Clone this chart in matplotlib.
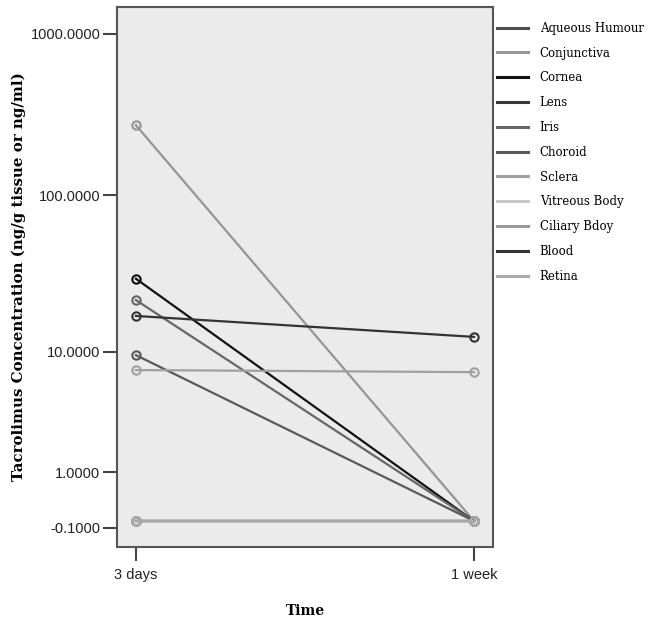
import numpy as np
import matplotlib
matplotlib.use("Agg")
import matplotlib.pyplot as plt

# data
times = ["3 days", "1 week"]
tissues = ["Aqueous Humour", "Conjunctiva", "Cornea", "Lens", "Iris", "Choroid",
           "Sclera", "Vitreous Body", "Ciliary Bdoy", "Blood", "Retina"]
day3 = [0.0, 272.0, 30.0, 0.0, 21.9, 9.5, 7.5, 0.0, 0.0, 17.3, 0.0]
week1 = [0.0, 0.0, 0.0, 0.0, 0.0, 0.0, 7.25, 0.0, 0.0, 12.6, 0.0]
colors = ["#505050", "#959595", "#111111", "#3a3a3a", "#666666", "#5a5a5a",
          "#a0a0a0", "#c8c8c8", "#9a9a9a", "#333333", "#aaaaaa"]
yticks = [-0.1, 1.0, 10.0, 100.0, 1000.0]


# SPSS style "safe log" axis: sign(x) * log10(1 + |x|)
def fwd(v):
    v = np.asarray(v, dtype=float)
    return np.sign(v) * np.log10(1 + np.abs(v))


def inv(v):
    v = np.asarray(v, dtype=float)
    return np.sign(v) * (10 ** np.abs(v) - 1)


fig = plt.figure(figsize=(6.49, 6.22), dpi=100)
ax = fig.add_axes([0.1803, 0.1206, 0.5793, 0.8681])
ax.set_facecolor("#ebebeb")
ax.set_yscale("function", functions=(fwd, inv))

x = np.arange(len(times))
for name, a, b, c in zip(tissues, day3, week1, colors):
    ax.plot(x, [a, b], color=c, lw=1.6, marker="o", ms=6, mfc="none",
            mec=c, mew=1.5, label=name)

ax.set_xlim(-0.056, 1.056)
ax.set_ylim(-0.444, 1457)
ax.set_yticks(yticks)
ax.set_yticklabels(["%.4f" % t for t in yticks])
ax.minorticks_off()
ax.set_xticks(x)
ax.set_xticklabels(times)

for lab in ax.get_xticklabels() + ax.get_yticklabels():
    lab.set_family("Liberation Sans")
    lab.set_fontsize(10.5)
    lab.set_color("#222222")

ax.tick_params(direction="out", length=10, width=1.5, color="#444444")
ax.tick_params(axis="y", pad=2)
ax.tick_params(axis="x", pad=5)
for sp in ax.spines.values():
    sp.set_color("#555555")
    sp.set_linewidth(1.5)

ax.set_xlabel("Time", family="DejaVu Serif", fontweight="bold", fontsize=10)
ax.xaxis.set_label_coords(0.5, -0.105)
ax.set_ylabel("Tacrolimus Concentration (ng/g tissue or ng/ml)",
              family="DejaVu Serif", fontweight="bold", fontsize=10.8)
ax.yaxis.set_label_coords(-0.243, 0.5)

leg = ax.legend(loc="upper left", bbox_to_anchor=(0.766, 0.965),
                bbox_transform=fig.transFigure, frameon=False,
                prop={"family": "DejaVu Serif", "size": 8.5},
                handlelength=2.6, handletextpad=1.0, labelspacing=1.0,
                borderpad=0, borderaxespad=0)
for h in leg.legend_handles:
    h.set_marker("")
    h.set_linewidth(2.2)

fig.savefig("out.png", dpi=100)
